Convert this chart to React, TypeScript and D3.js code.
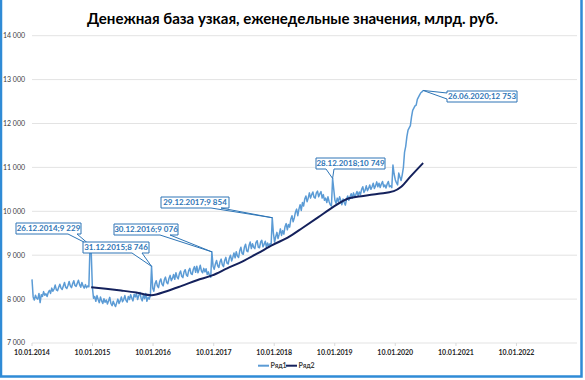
import React from "react";
import * as d3 from "d3";

const TITLE = "Денежная база узкая, еженедельные значения, млрд. руб.";
const Y_TICKS = [7000, 8000, 9000, 10000, 11000, 12000, 13000, 14000];
const X_TICKS = [
  "2014-01-10", "2015-01-10", "2016-01-10", "2017-01-10", "2018-01-10",
  "2019-01-10", "2020-01-10", "2021-01-10", "2022-01-10",
];
const LEGEND = ["Ряд1", "Ряд2"];

// Ряд1: weekly values starting 10.01.2014
const SERIES1_START = "2014-01-10";
const rub2014 = [
  8450, 8050, 7980, 8090,
  8020, 8000, 8130, 7920,
  8100, 8060, 8170, 8090,
  8120, 8060, 8150, 8200,
  8130, 8250, 8180, 8230, 8320,
  8210, 8190, 8270, 8340,
  8250, 8220, 8300, 8380,
  8270, 8240, 8310, 8400, 8300,
  8260, 8350, 8420, 8310,
  8290, 8360, 8430, 8330, 8270,
  8380, 8300, 8250, 8330,
  8260, 8300, 8280, 9229,
];
const rub2015 = [
  9100, 8280, 8020, 8060, 7950,
  8080, 7990, 7920, 8050,
  7960, 7900, 8010, 7930,
  7980, 7890, 7960, 8040,
  7900, 7850, 7950, 7880, 7830,
  7920, 8000, 7900, 7960,
  8050, 7940, 7990, 8080, 7970,
  7930, 8060, 7990, 8100,
  8020, 7960, 8110, 8050,
  8130, 7990, 8080, 8150, 8020,
  7960, 8100, 8010, 8130,
  7950, 8040, 8000, 8080, 8746,
];
const rub2016 = [
  8250, 8180, 8350, 8420,
  8300, 8260, 8400, 8460,
  8340, 8300, 8440, 8500,
  8380, 8350, 8470, 8540, 8420,
  8470, 8560, 8450, 8600,
  8500, 8460, 8580, 8640,
  8520, 8490, 8620, 8670, 8550,
  8520, 8650, 8700, 8580,
  8560, 8680, 8740, 8610, 8750,
  8600, 8680, 8770, 8640,
  8600, 8700, 8620, 8690,
  8560, 8620, 8530, 8500, 9076,
];
const rub2017 = [
  8750, 8680, 8800, 8880,
  8760, 8720, 8850, 8910,
  8780, 8740, 8880, 8950, 8820,
  8800, 8930, 9000, 8870,
  8950, 9050, 8940, 9080,
  8980, 8950, 9100, 9180, 9040,
  9020, 9180, 9250, 9100,
  9080, 9220, 9300, 9150,
  9260, 9180, 9150, 9290, 9330,
  9180, 9170, 9300, 9340,
  9190, 9250, 9320, 9180,
  9280, 9200, 9260, 9220, 9854,
];
const rub2018 = [
  9500, 9300, 9420, 9520,
  9380, 9480, 9600, 9450,
  9560, 9480, 9650, 9720, 9580,
  9700, 9640, 9820, 9900,
  9760, 9850, 9980, 10050,
  9900, 10050, 10150, 10020, 10200,
  10120, 10280, 10350, 10220,
  10300, 10420, 10300, 10380, 10440,
  10320, 10300, 10420, 10460,
  10330, 10400, 10450, 10300,
  10380, 10250, 10300, 10200, 10330,
  10220, 10150, 10120, 10749,
];
const rub2019 = [
  10500, 10250, 10180, 10300,
  10220, 10330, 10250, 10150,
  10280, 10200, 10140, 10280, 10350,
  10250, 10330, 10400, 10300,
  10420, 10340, 10380, 10450, 10360,
  10440, 10380, 10500, 10560,
  10430, 10480, 10580, 10470,
  10520, 10600, 10500, 10560, 10640,
  10520, 10580, 10670, 10560,
  10640, 10540, 10620, 10680,
  10560, 10600, 10530, 10620, 10680,
  10560, 10580, 10540, 11055,
];
const rub2020 = [
  10850, 10720, 10650, 10600, 10870,
  10780, 10700, 10830, 11000,
  11350, 11480, 11700, 11850,
  11900, 11950, 12150, 12300,
  12350, 12400, 12420, 12550, 12600,
  12650, 12700, 12720, 12753,
];
const ryad1 = [...rub2014, ...rub2015, ...rub2016, ...rub2017, ...rub2018, ...rub2019, ...rub2020];

// Ряд2: smooth trend
const ryad2Dates = [
  "2015-01-02", "2015-04-01", "2015-07-01", "2015-10-01",
  "2016-01-01", "2016-04-01", "2016-07-01", "2016-10-01",
  "2017-01-01", "2017-04-01", "2017-07-01", "2017-10-01",
  "2018-01-01", "2018-04-01", "2018-07-01", "2018-10-01",
  "2019-01-01", "2019-04-01", "2019-07-01", "2019-10-01",
  "2020-01-01", "2020-02-15", "2020-04-10", "2020-06-26",
];
const ryad2Values = [
  8270, 8235, 8195, 8150,
  8090, 8180, 8300, 8430,
  8540, 8700, 8855, 9040,
  9235, 9400, 9625, 9860,
  10100, 10290, 10350, 10400,
  10460, 10560, 10790, 11100,
];

// data labels
const labelTexts = [
  "26.12.2014;9 229", "31.12.2015;8 746", "30.12.2016;9 076",
  "29.12.2017;9 854", "28.12.2018;10 749", "26.06.2020;12 753",
];
const labelIndex = [50, 103, 155, 207, 259, 337];
// box layout: x, y, w, side of wedge ('b' bottom / 'l' left), wedge base start, end
const labelBoxes: [number, number, number, string, number, number][] = [
  [16, 223, 65, "b", 68, 77],
  [83, 242, 66, "b", 132, 142],
  [114, 224, 64, "b", 160, 170],
  [161, 197, 68, "b", 211, 221],
  [316, 158, 69, "b", 326, 334],
  [447, 91, 70, "l", 93, 99],
];

const FONT = "Lato, 'Open Sans', sans-serif";
const C1 = "#5b9bd5";
const C2 = "#14215c";
const LBL = "#2e75b6";

export default function App() {
  const parse = d3.timeParse("%Y-%m-%d");
  const x = d3.scaleTime().domain([parse("2014-01-10")!, parse("2023-01-10")!]).range([32, 577]);
  const y = d3.scaleLinear().domain([7000, 14000]).range([343, 35.7]);
  const start = parse(SERIES1_START)!;
  const s1 = ryad1.map((v, i) => ({ d: d3.timeDay.offset(start, 7 * i), v }));
  const s2 = ryad2Dates.map((s, i) => ({ d: parse(s)!, v: ryad2Values[i] }));
  const line1 = d3.line<any>().x((p) => x(p.d)).y((p) => y(p.v));
  const line2 = d3.line<any>().curve(d3.curveMonotoneX).x((p) => x(p.d)).y((p) => y(p.v));
  const loc = d3.formatLocale({ decimal: ",", thousands: " ", grouping: [3], currency: ["", ""] });
  const fmtY = loc.format(",");
  const fmtX = d3.timeFormat("%d.%m.%Y");
  const [x0, x1] = x.range();
  const h = 11;

  return (
    <svg width={585} height={380} style={{ position: "absolute", left: 0, top: 0, background: "#fff" }}>
      <rect x={0} y={0} width={585} height={380} fill="#fff" />
      <text x={292.5} y={24} textAnchor="middle" fontFamily={FONT} fontWeight={700} fontSize={15}
        fill="#000" textLength={411} lengthAdjust="spacingAndGlyphs">{TITLE}</text>

      {Y_TICKS.map((t) => (
        <g key={t}>
          <line x1={x0} x2={x1} y1={y(t)} y2={y(t)} stroke="#e3e3e3" strokeWidth={1} />
          <text x={25} y={y(t)} dy="0.35em" textAnchor="end" fontFamily={FONT} fontSize={7} fill="#404040">{fmtY(t)}</text>
        </g>
      ))}
      {X_TICKS.map((s) => {
        const d = parse(s)!;
        return (
          <g key={s}>
            <line x1={x(d)} x2={x(d)} y1={343} y2={346} stroke="#d9d9d9" />
            <text x={x(d)} y={353} dy="0.35em" textAnchor="middle" fontFamily={FONT} fontWeight={700}
              fontSize={7} fill="#262626">{fmtX(d)}</text>
          </g>
        );
      })}

      <path d={line1(s1) || ""} fill="none" stroke={C1} strokeWidth={1.5} strokeLinejoin="round" />
      <path d={line2(s2) || ""} fill="none" stroke={C2} strokeWidth={2} strokeLinejoin="round" />

      {labelTexts.map((txt, k) => {
        const p = s1[labelIndex[k]];
        const tx = x(p.d), ty = y(p.v);
        const [bx, by, bw, side, a, b] = labelBoxes[k];
        const path = side === "b"
          ? `M${bx},${by}H${bx + bw}V${by + h}H${b}L${tx},${ty}L${a},${by + h}H${bx}Z`
          : `M${bx},${by}H${bx + bw}V${by + h}H${bx}V${b}L${tx},${ty}L${bx},${a}Z`;
        return (
          <g key={txt}>
            <path d={path} fill="#fff" stroke={LBL} strokeWidth={1} strokeLinejoin="miter" />
            <text x={bx + bw / 2} y={by + h / 2} dy="0.35em" textAnchor="middle" fontFamily={FONT}
              fontWeight={700} fontSize={8} fill={LBL}>{txt}</text>
          </g>
        );
      })}

      {LEGEND.map((name, k) => {
        const lx = k === 0 ? 258 : 286;
        return (
          <g key={name}>
            <line x1={lx} x2={lx + 11} y1={365.7} y2={365.7} stroke={k === 0 ? C1 : C2} strokeWidth={2} />
            <text x={lx + 12.5} y={365.7} dy="0.35em" fontFamily={FONT} fontWeight={700} fontSize={7} fill="#404040">{name}</text>
          </g>
        );
      })}

      <rect x={1} y={-10} width={580.5} height={386.5} fill="none" stroke="#2f8bd6" strokeWidth={2.5} />
    </svg>
  );
}
